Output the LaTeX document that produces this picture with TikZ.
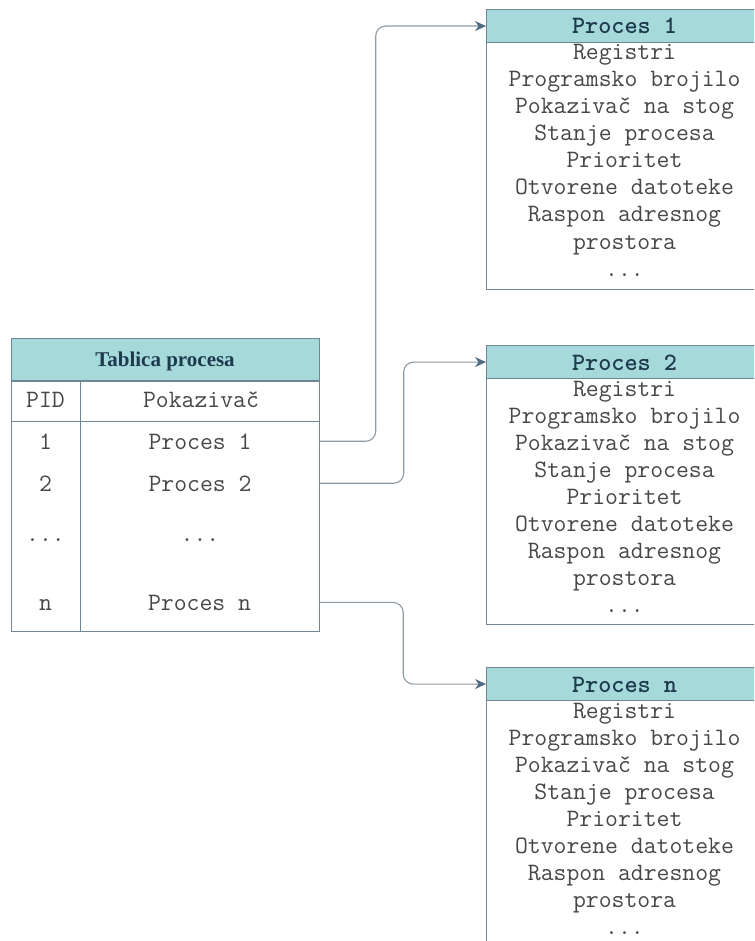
\documentclass[tikz,border=0pt]{standalone}
\usepackage{fontspec}
\setmainfont{Liberation Serif}
\usetikzlibrary{arrows.meta}

\definecolor{headfill}{HTML}{A6D9D9}
\definecolor{edgec}{HTML}{6F8794}
\definecolor{linec}{HTML}{8E9BA4}
\definecolor{tipc}{HTML}{4E6C83}
\definecolor{titlec}{HTML}{1E3A4E}
\definecolor{textc}{HTML}{474747}

\newcommand{\threedots}{...}

\tikzset{
  frame/.style={draw=edgec, line width=1.1pt, inner sep=0pt, rectangle},
  headbox/.style={frame, fill=headfill},
  txt/.style={inner sep=0pt, anchor=base, text=textc,
    font=\ttfamily\fontsize{25}{27}\selectfont},
  headtxt/.style={txt, text=titlec, font=\ttfamily\bfseries\fontsize{25}{27}\selectfont},
  tabtitle/.style={inner sep=0pt, anchor=base, text=titlec,
    font=\rmfamily\bfseries\fontsize{21}{25}\selectfont},
  rowcell/.style={txt, minimum width=239pt},
  conn/.style={draw=linec, line width=1.1pt, rounded corners=10pt,
    -{Stealth[length=11pt,width=10pt,color=tipc]}}
}

\begin{document}
\begin{tikzpicture}[x=1pt,y=-1pt]
\useasboundingbox (0,0) rectangle (754,941);
\clip (0,0) rectangle (754,941);
\fill[white] (0,0) rectangle (754,941);

% process control blocks
\foreach \nm/\ytop/\bh/\ttl in {p1/9/280/Proces 1, p2/345/279/Proces 2, pn/667/300/Proces n}{
  \node[frame, anchor=north west, minimum width=277pt, minimum height=\bh pt] (\nm) at (486,\ytop) {};
  \node[headbox, anchor=north west, minimum width=277pt, minimum height=33pt] (\nm h) at (486,\ytop) {};
  \node[headtxt] (\nm t) at (624.5,\ytop+25) {\ttl};
  \foreach \ln [count=\i] in {Registri, Programsko brojilo, Pokazivač na stog,
      Stanje procesa, Prioritet, Otvorene datoteke, Raspon adresnog, prostora, \threedots}{
    \node[txt] (\nm l\i) at (624.5,\ytop+51+27*\i-27) {\ln};
  }
}

% process table
\node[headbox, anchor=north west, minimum width=308pt, minimum height=43pt] (th) at (11,338) {};
\node[tabtitle] (tht) at (165,366) {Tablica procesa};
\node[frame, anchor=north west, minimum width=69pt, minimum height=41pt] (pidh) at (11,380) {};
\node[frame, anchor=north west, minimum width=239pt, minimum height=41pt] (ptrh) at (80,380) {};
\node[frame, anchor=north west, minimum width=69pt, minimum height=210pt] (pidcol) at (11,421) {};
\node[frame, anchor=north west, minimum width=239pt, minimum height=210pt] (ptrcol) at (80,421) {};
\node[txt] (pidt) at (45.5,407) {PID};
\node[txt] (ptrt) at (201,407) {Pokazivač};

\node[txt] (i1) at (45.5,449) {1};
\node[txt] (i2) at (45.5,491) {2};
\node[txt] (id) at (45.5,541) {\threedots};
\node[txt] (in) at (45.5,610) {n};
\node[rowcell] (r1) at (200,449) {Proces 1};
\node[rowcell] (r2) at (200,491) {Proces 2};
\node[rowcell] (rd) at (200,541) {\threedots};
\node[rowcell] (rn) at (199.5,610) {Proces n};

% pointers
\draw[conn] (r1.east) -- ++(56pt,0) |- (p1h.west);
\draw[conn] (r2.east) -- ++(84pt,0) |- (p2h.west);
\draw[conn] (rn.east) -- ++(84pt,0) |- (pnh.west);
\end{tikzpicture}
\end{document}
